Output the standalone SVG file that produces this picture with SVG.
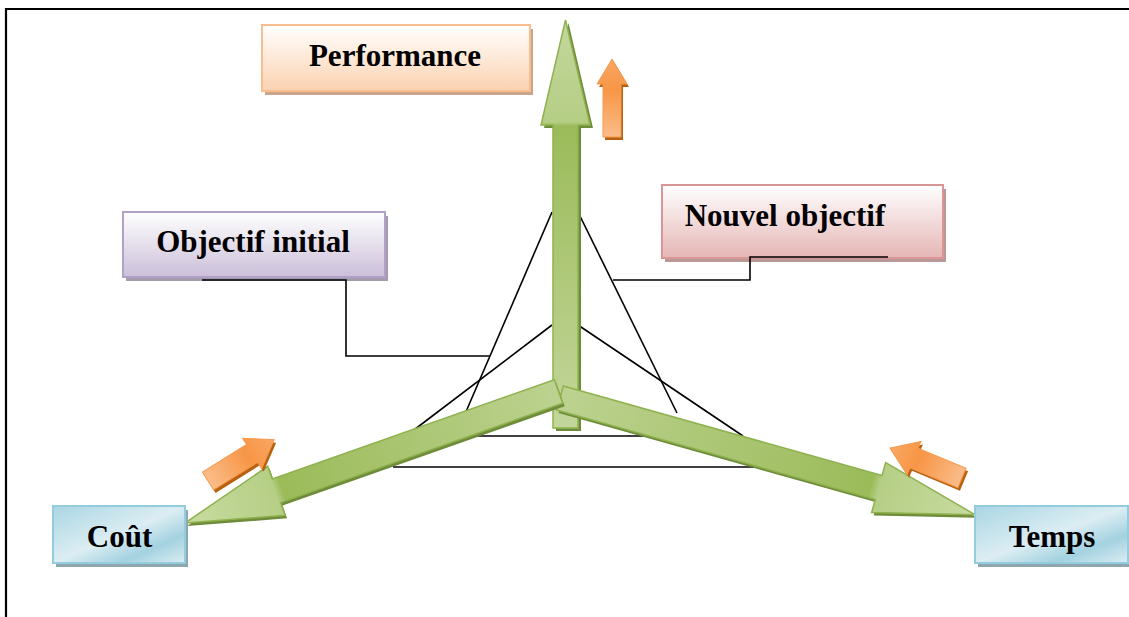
<svg xmlns="http://www.w3.org/2000/svg" xmlns:xlink="http://www.w3.org/1999/xlink" width="1129" height="617" viewBox="0 0 1129 617">
  <style>
    .lbl { font-family: "Liberation Serif", "Times New Roman", serif; font-weight: bold; font-size: 31px; fill: #000; text-anchor: middle; }
    .ln { fill: none; stroke: #000; stroke-width: 1.6; }
    .frame { fill: none; stroke: #000; stroke-width: 2.2; }
    .gshadow { fill: #6f8c3a; }
    .oshadow { fill: #b8610f; }
    .gedge { stroke: #8fb24f; stroke-width: 1.5; stroke-linejoin: miter; }
    .oedge { stroke: #f59a4e; stroke-width: 1; }
  </style>
  <defs>
    <linearGradient id="gPerf" x1="0" y1="0" x2="0" y2="1">
      <stop offset="0" stop-color="#ffffff"/>
      <stop offset="1" stop-color="#fbd2b0"/>
    </linearGradient>
    <linearGradient id="gInit" x1="0" y1="0" x2="0" y2="1">
      <stop offset="0" stop-color="#ffffff"/>
      <stop offset="1" stop-color="#cbbfd9"/>
    </linearGradient>
    <linearGradient id="gNew" x1="0" y1="0" x2="0" y2="1">
      <stop offset="0" stop-color="#ffffff"/>
      <stop offset="1" stop-color="#e5b6b5"/>
    </linearGradient>
    <linearGradient id="gBlue" x1="0" y1="0" x2="1" y2="1">
      <stop offset="0" stop-color="#a9d6e3"/>
      <stop offset="0.5" stop-color="#dcedf3"/>
      <stop offset="0.75" stop-color="#a3d2e0"/>
      <stop offset="1" stop-color="#dcedf3"/>
    </linearGradient>
    <!-- green arm fill, along the arm length (local x) -->
    <linearGradient id="gArmL" gradientUnits="userSpaceOnUse" x1="0" y1="0" x2="396" y2="0">
      <stop offset="0" stop-color="#bcd290"/>
      <stop offset="0.74" stop-color="#9bbb59"/>
      <stop offset="0.76" stop-color="#b6cf86"/>
      <stop offset="1" stop-color="#c7dba0"/>
    </linearGradient>
    <linearGradient id="gArmR" gradientUnits="userSpaceOnUse" x1="0" y1="0" x2="431" y2="0">
      <stop offset="0" stop-color="#bcd290"/>
      <stop offset="0.75" stop-color="#9bbb59"/>
      <stop offset="0.77" stop-color="#b6cf86"/>
      <stop offset="1" stop-color="#c7dba0"/>
    </linearGradient>
    <linearGradient id="gArmV" gradientUnits="userSpaceOnUse" x1="0" y1="428" x2="0" y2="20">
      <stop offset="0" stop-color="#c3d69b"/>
      <stop offset="0.74" stop-color="#9bbb59"/>
      <stop offset="0.75" stop-color="#b5ce85"/>
      <stop offset="1" stop-color="#c3d79c"/>
    </linearGradient>
    <linearGradient id="gOrange" gradientUnits="userSpaceOnUse" x1="0" y1="0" x2="78" y2="0">
      <stop offset="0" stop-color="#fbbd8a"/>
      <stop offset="0.6" stop-color="#f79646"/>
      <stop offset="1" stop-color="#f9a764"/>
    </linearGradient>
    <!-- arrow outlines in local coordinates: tail at origin, pointing along +x -->
    <path id="armL" d="M0,-12.5 L299,-12.5 L299,-26 L396,0 L299,26 L299,12.5 L0,12.5 Z"/>
    <path id="armR" d="M0,-12.5 L331,-12.5 L331,-26 L431,0 L331,26 L331,12.5 L0,12.5 Z"/>
    <path id="armV" d="M553,428 L553,125 L541,125 L565.5,20 L590,125 L578,125 L578,428 Z"/>
    <path id="small" d="M0,-9 L53,-9 L53,-15 L78,0 L53,15 L53,9 L0,9 Z"/>
    <path id="smallD" d="M0,-10.5 L52,-10.5 L52,-18 L78,0 L52,18 L52,10.5 L0,10.5 Z"/>
  </defs>

  <!-- page frame -->
  <g id="frame">
    <line class="frame" x1="5" y1="9" x2="1129" y2="9"/>
    <line class="frame" x1="6" y1="8" x2="6" y2="617"/>
  </g>

  <!-- the two objective triangles -->
  <g id="connectors">
    <line class="ln" x1="552" y1="212" x2="465" y2="414"/>
    <line class="ln" x1="552" y1="325" x2="406" y2="436"/>
    <line class="ln" x1="578" y1="212" x2="677" y2="413"/>
    <line class="ln" x1="578" y1="325" x2="743" y2="436"/>
    <line class="ln" x1="465" y1="436" x2="663" y2="436"/>
    <line class="ln" x1="393" y1="467" x2="765" y2="467"/>
  </g>

  <!-- green axes -->
  <g id="axis-performance">
    <use xlink:href="#armV" class="gshadow" transform="translate(3,3)"/>
    <use xlink:href="#armV" fill="url(#gArmV)" class="gedge"/>
  </g>
  <g id="axis-temps">
    <g transform="translate(562,401) rotate(15.7)">
      <use xlink:href="#armR" class="gshadow"/>
    </g>
    <g transform="translate(560,398) rotate(15.7)">
      <use xlink:href="#armR" fill="url(#gArmR)" class="gedge"/>
    </g>
  </g>
  <g id="axis-cout">
    <g transform="translate(560.5,394.5) rotate(160.6)">
      <use xlink:href="#armL" class="gshadow"/>
    </g>
    <g transform="translate(558.5,391.5) rotate(160.6)">
      <use xlink:href="#armL" fill="url(#gArmL)" class="gedge"/>
    </g>
  </g>

  <!-- orange trend arrows -->
  <g id="trend-performance">
    <g transform="translate(614,140) rotate(-90)"><use xlink:href="#small" class="oshadow"/></g>
    <g transform="translate(612,137) rotate(-90)"><use xlink:href="#small" fill="url(#gOrange)" class="oedge"/></g>
  </g>
  <g id="trend-cout">
    <g transform="translate(210,484) rotate(-32)"><use xlink:href="#smallD" class="oshadow"/></g>
    <g transform="translate(208,481) rotate(-32)"><use xlink:href="#smallD" fill="url(#gOrange)" class="oedge"/></g>
  </g>
  <g id="trend-temps">
    <g transform="translate(964,481) rotate(-157.4)"><use xlink:href="#smallD" class="oshadow"/></g>
    <g transform="translate(962,478) rotate(-157.4)"><use xlink:href="#smallD" fill="url(#gOrange)" class="oedge"/></g>
  </g>

  <!-- labels -->
  <g id="node-performance">
    <rect x="265" y="29" width="268" height="66" fill="#c9a68b"/>
    <rect x="262" y="25" width="268" height="66" fill="url(#gPerf)" stroke="#f9be8f" stroke-width="2"/>
    <text class="lbl" x="395" y="66">Performance</text>
  </g>
  <g id="node-objectif-initial">
    <rect x="126" y="216" width="262" height="65" fill="#a39cad"/>
    <rect x="123" y="212" width="262" height="65" fill="url(#gInit)" stroke="#b2a1c7" stroke-width="2"/>
    <text class="lbl" x="253" y="252">Objectif initial</text>
  </g>
  <g id="node-nouvel-objectif">
    <rect x="665" y="189" width="281" height="73" fill="#b99897"/>
    <rect x="662" y="185" width="281" height="73" fill="url(#gNew)" stroke="#d99694" stroke-width="2"/>
    <text class="lbl" x="785" y="226">Nouvel objectif</text>
  </g>
  <g id="node-cout">
    <rect x="56" y="510" width="132" height="57" fill="#8ea6ae"/>
    <rect x="53" y="506" width="132" height="57" fill="url(#gBlue)" stroke="#93cddd" stroke-width="2"/>
    <text class="lbl" x="119.5" y="547">Coût</text>
  </g>
  <g id="node-temps">
    <rect x="978" y="510" width="153" height="57" fill="#8ea6ae"/>
    <rect x="975" y="506" width="153" height="57" fill="url(#gBlue)" stroke="#93cddd" stroke-width="2"/>
    <text class="lbl" x="1052" y="547">Temps</text>
  </g>

  <!-- leader lines from the objective labels to the triangles -->
  <g id="leaders">
    <polyline class="ln" points="202,280 346,280 346,356 490,356"/>
    <polyline class="ln" points="888,257 750,257 750,280 613,280"/>
  </g>
</svg>
